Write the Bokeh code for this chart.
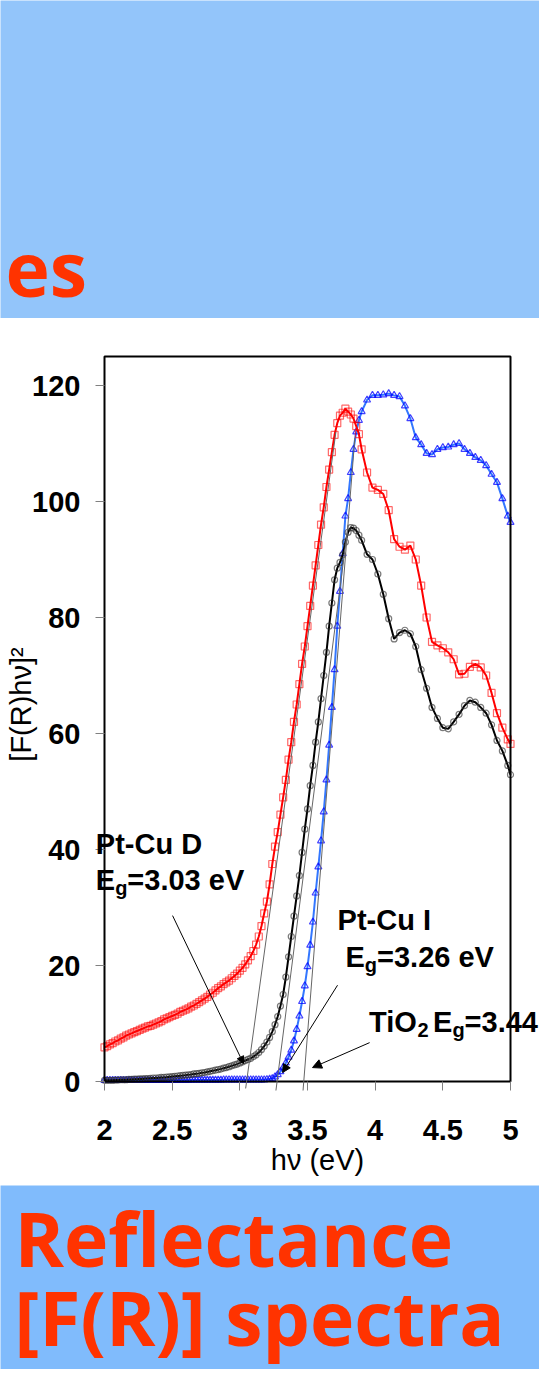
from bokeh.plotting import figure
from bokeh.models import Label, Arrow, NormalHead, Range1d, FixedTicker, CustomJSTickFormatter
from bokeh.layouts import column
from bokeh.embed import file_html
from bokeh.resources import INLINE

# ---------------- data ----------------
energy_ev = [
    2.00, 2.02, 2.04, 2.06, 2.08, 2.10, 2.12, 2.14, 2.16, 2.18,
    2.20, 2.22, 2.24, 2.26, 2.28, 2.30, 2.32, 2.34, 2.36, 2.38,
    2.40, 2.42, 2.44, 2.46, 2.48, 2.50, 2.52, 2.54, 2.56, 2.58,
    2.60, 2.62, 2.64, 2.66, 2.68, 2.70, 2.72, 2.74, 2.76, 2.78,
    2.80, 2.82, 2.84, 2.86, 2.88, 2.90, 2.92, 2.94, 2.96, 2.98,
    3.00,
    3.02, 3.04, 3.06, 3.08, 3.10, 3.12, 3.14, 3.16, 3.18, 3.20,
    3.22, 3.24, 3.26, 3.28, 3.30, 3.32, 3.34, 3.36, 3.38, 3.40,
    3.42, 3.44, 3.46, 3.48, 3.50, 3.52, 3.54, 3.56, 3.58, 3.60,
    3.62, 3.64, 3.66, 3.68, 3.70, 3.72, 3.74, 3.76, 3.78, 3.80,
    3.82, 3.84, 3.86, 3.88, 3.90,
    3.94, 3.98, 4.02, 4.06, 4.10, 4.14, 4.18, 4.22, 4.26, 4.30,
    4.34, 4.38, 4.42, 4.46, 4.50, 4.54, 4.58, 4.62, 4.66, 4.70,
    4.74, 4.78, 4.82, 4.86, 4.90, 4.94, 4.98, 5.00,
]

pt_cu_d = [  # red squares
    5.9, 6.1, 6.4, 6.6, 6.9, 7.1, 7.4, 7.6, 7.9, 8.1,
    8.3, 8.5, 8.7, 8.9, 9.1, 9.3, 9.5, 9.6, 9.8, 10.0,
    10.2, 10.4, 10.7, 10.9, 11.1, 11.3, 11.5, 11.7, 12.0, 12.2,
    12.4, 12.6, 12.9, 13.1, 13.4, 13.7, 14.0, 14.3, 14.6, 15.0,
    15.3, 15.7, 16.1, 16.4, 16.8, 17.1, 17.4, 17.8, 18.2, 18.6,
    19.1,
    19.6, 20.2, 20.9, 21.6, 22.5, 23.6, 25.0, 26.8, 29.0, 31.0,
    34.0, 37.5, 40.5, 43.0, 46.0, 49.0, 52.0, 55.5, 58.5, 62.0,
    65.0, 68.5, 72.0, 75.0, 78.5, 82.0, 85.5, 89.0, 92.5, 96.0,
    99.0, 102.5, 105.5, 108.5, 111.5, 113.5, 114.8, 115.3, 116.0, 115.5,
    115.0, 114.3, 113.0, 111.6, 109.0,
    105.0, 102.4, 102.0, 101.3, 98.5, 93.5, 92.2, 91.7, 92.4, 90.0,
    85.5, 80.0, 75.8, 75.2, 74.7, 74.0, 72.8, 70.2, 70.3, 71.5,
    72.0, 71.4, 70.0, 67.0, 63.5, 61.0, 59.0, 58.2,
]

pt_cu_i = [  # black circles
    0.2, 0.2, 0.2, 0.2, 0.25, 0.25, 0.3, 0.3, 0.3, 0.35,
    0.35, 0.4, 0.4, 0.45, 0.45, 0.5, 0.5, 0.55, 0.6, 0.6,
    0.65, 0.7, 0.7, 0.75, 0.8, 0.85, 0.9, 0.95, 1.0, 1.05,
    1.1, 1.15, 1.2, 1.3, 1.35, 1.4, 1.5, 1.55, 1.65, 1.75,
    1.85, 1.95, 2.05, 2.15, 2.3, 2.4, 2.55, 2.7, 2.85, 3.0,
    3.2,
    3.4, 3.6, 3.8, 4.0, 4.3, 4.6, 5.0, 5.5, 6.1, 6.8,
    7.6, 8.6, 9.8, 11.2, 13.0, 15.0, 18.0, 21.5, 25.0, 28.5,
    32.0, 35.5, 39.5, 43.5, 47.0, 51.0, 54.5, 58.5, 62.0, 66.0,
    70.0, 74.0, 78.5, 82.5, 86.5, 88.5, 89.5, 90.8, 93.0, 94.7,
    95.5, 95.4, 95.0, 94.2, 93.3,
    90.9, 90.0, 87.5, 84.0, 79.8, 76.3, 77.4, 77.8, 77.2, 75.0,
    71.0, 67.8, 64.5, 62.6, 61.0, 60.8, 62.0, 63.3, 64.8, 65.7,
    65.4, 64.5, 63.5, 61.5, 58.8, 57.0, 54.5, 52.9,
]

tio2 = [  # blue triangles
    0.2, 0.2, 0.2, 0.2, 0.2, 0.2, 0.2, 0.2, 0.2, 0.2,
    0.2, 0.2, 0.2, 0.2, 0.2, 0.2, 0.2, 0.2, 0.2, 0.2,
    0.2, 0.2, 0.2, 0.2, 0.2, 0.2, 0.2, 0.2, 0.2, 0.2,
    0.2, 0.2, 0.25, 0.25, 0.25, 0.25, 0.25, 0.25, 0.25, 0.25,
    0.25, 0.25, 0.25, 0.25, 0.3, 0.3, 0.3, 0.3, 0.3, 0.3,
    0.3,
    0.3, 0.3, 0.3, 0.3, 0.3, 0.3, 0.3, 0.3, 0.3, 0.35,
    0.4, 0.5, 0.8, 1.2, 1.7, 2.4, 3.2, 4.2, 5.4, 7.0,
    9.0, 11.3, 13.8, 16.5, 19.8, 23.5, 27.5, 32.5, 37.0, 41.5,
    46.5, 52.0, 58.0, 64.5, 71.0, 78.5, 84.5, 91.0, 97.5, 100.5,
    105.0, 109.0, 112.0, 114.0, 115.5,
    117.5, 118.3, 118.3, 118.4, 118.6, 118.3, 118.1, 116.5, 114.3, 111.0,
    109.8, 108.3, 108.1, 109.0, 109.3, 109.4, 109.8, 110.0, 109.0, 108.3,
    107.6, 107.1, 106.2, 104.7, 103.3, 100.5, 97.5, 96.4,
]

x_ticks = [2, 2.5, 3, 3.5, 4, 4.5, 5]
y_ticks = [0, 20, 40, 60, 80, 100, 120]
Y_MAX = 125

# band-gap extrapolation lines (start, end) in data units
tangents = [
    ((3.043, -1.2), (3.71, 112.0)),   # Pt-Cu D
    ((3.249, -4.8), (3.80, 96.0)),    # Pt-Cu I
    ((3.456, -4.8), (3.85, 111.0)),   # TiO2
]

# ---------------- styling ----------------
W = 539
TOP_H, MID_H, BOT_H = 318, 867, 184
TOP_BLUE = "#93C5FA"
BOT_BLUE = "#80BBFC"
ORANGE = "#FF3300"
FONT = "Liberation Sans"
TITLE_FONT = "Open Sans"
TITLE_SIZE = 75
TITLE_SHIFT = 0.385 * TITLE_SIZE   # baseline correction for the label renderer


def band(h, color):
    f = figure(width=W, height=h, x_range=Range1d(0, W), y_range=Range1d(0, h),
               output_backend="svg", toolbar_location=None, min_border=0,
               x_axis_location=None, y_axis_location=None)
    f.frame_align = False
    f.grid.visible = False
    f.outline_line_color = None
    f.background_fill_color = color
    f.border_fill_color = color
    return f


def title_label(fig, x, y, text):
    fig.add_layout(Label(x=x, y=y, y_offset=TITLE_SHIFT, text=text, text_align="left",
                         text_baseline="alphabetic", text_font=TITLE_FONT,
                         text_font_style="bold", text_font_size=f"{TITLE_SIZE}px",
                         text_color=ORANGE))


top = band(TOP_H, TOP_BLUE)
title_label(top, 5, 22, "es")

bot = band(BOT_H, BOT_BLUE)
title_label(bot, 14, 103, "Reflectance")
title_label(bot, 14, 24, "[F(R)] spectra")

# chart: frame extends past the plot box so annotations are not cut;
# the box itself is drawn in data units, ticks point inward from the frame edge
PX_PER_X = 135.333
PX_PER_Y = 5.8
x_lo = 2 - 9 / PX_PER_X
x_hi = 5 + 29 / PX_PER_X
y_lo = -9 / PX_PER_Y
y_hi = Y_MAX + 38 / PX_PER_Y

p = figure(width=W, height=MID_H, x_range=Range1d(x_lo, x_hi), y_range=Range1d(y_lo, y_hi),
           output_backend="svg", toolbar_location=None,
           min_border_left=95, min_border_right=0, min_border_top=0, min_border_bottom=95)
p.frame_align = False
p.grid.visible = False
p.background_fill_color = "white"
p.border_fill_color = "white"
p.outline_line_color = None

p.xaxis.ticker = FixedTicker(ticks=x_ticks)
p.yaxis.ticker = FixedTicker(ticks=y_ticks)
p.xaxis.formatter = CustomJSTickFormatter(code="return String(tick);")
p.xaxis.axis_label = "hν (eV)"
p.yaxis.axis_label = "[F(R)hν]²"
for ax in (p.xaxis[0], p.yaxis[0]):
    ax.axis_line_color = None
    ax.major_tick_line_color = "#808080"
    ax.major_tick_line_width = 1
    ax.major_tick_out = 0
    ax.major_tick_in = 9
    ax.minor_tick_line_color = None
    ax.major_label_text_font = FONT
    ax.major_label_text_font_style = "bold"
    ax.major_label_text_font_size = "29px"
    ax.major_label_text_color = "black"
    ax.axis_label_text_font = FONT
    ax.axis_label_text_font_style = "normal"
    ax.axis_label_text_font_size = "29px"
    ax.axis_label_text_color = "black"
p.xaxis.major_label_standoff = 29
p.yaxis.major_label_standoff = 15
p.xaxis.axis_label_standoff = 1
p.yaxis.axis_label_standoff = -8

for (xs, ys), (xe, ye) in tangents:
    p.add_layout(Arrow(end=None, x_start=xs, y_start=ys, x_end=xe, y_end=ye,
                       line_color="#666666", line_width=1))

# series
p.line(energy_ev, tio2, line_color="#3377FF", line_width=2)
p.scatter(energy_ev, tio2, marker="triangle", size=7, fill_color=None,
          line_color="#0000FF", line_alpha=0.75, line_width=1.2)
p.line(energy_ev, pt_cu_i, line_color="black", line_width=2)
p.scatter(energy_ev, pt_cu_i, marker="circle", size=6, fill_color=None,
          line_color="#333333", line_alpha=0.65, line_width=1.2)
p.line(energy_ev, pt_cu_d, line_color="#FF0000", line_width=2)
p.scatter(energy_ev, pt_cu_d, marker="square", size=7, fill_color=None,
          line_color="#FF0000", line_alpha=0.6, line_width=1.2)

# plot box
p.quad(left=x_ticks[0], right=x_ticks[-1], bottom=0, top=Y_MAX,
       fill_color=None, line_color="black", line_width=2)

MAIN = 29
SUB = 20


def lab(x, y, text, sub=False, dx=0):
    size = SUB if sub else MAIN
    dy = 0.36 * size - (5 if sub else 0)
    p.add_layout(Label(x=x, y=y, x_offset=dx, y_offset=dy, text=text,
                       text_align="left", text_baseline="alphabetic",
                       text_font=FONT, text_font_style="bold", text_font_size=f"{size}px",
                       text_color="black"))


# Pt-Cu D
lab(1.936, 39.14, "Pt-Cu D")
lab(1.936, 32.93, "E")
lab(1.936, 32.93, "g", sub=True, dx=19.3)
lab(1.936, 32.93, "=3.03 eV", dx=31.5)
# Pt-Cu I
lab(3.722, 26.03, "Pt-Cu I")
lab(3.781, 19.66, "E")
lab(3.781, 19.66, "g", sub=True, dx=19.3)
lab(3.781, 19.66, "=3.26 eV", dx=31.5)
# TiO2
lab(3.955, 8.45, "TiO")
lab(3.955, 8.45, "2", sub=True, dx=48.3)
lab(3.955, 8.45, "E", dx=64)
lab(3.955, 8.45, "g", sub=True, dx=83.3)
lab(3.955, 8.45, "=3.44", dx=95.5)

# pointers
p.add_layout(Arrow(end=NormalHead(size=7, fill_color="black", line_color="black"),
                   x_start=2.503, y_start=28.6, x_end=3.027, y_end=3.1,
                   line_color="black", line_width=1))
p.add_layout(Arrow(end=NormalHead(size=8, fill_color="black", line_color="black"),
                   x_start=3.722, y_start=16.6, x_end=3.316, y_end=1.55,
                   line_color="black", line_width=1))
p.add_layout(Arrow(end=NormalHead(size=9, fill_color="black", line_color="black"),
                   x_start=3.959, y_start=6.7, x_end=3.537, y_end=2.4,
                   line_color="black", line_width=1))

layout = column(top, p, bot, spacing=0)

with open("out.html", "w") as fh:
    fh.write(file_html(layout, INLINE, title="Reflectance spectra"))
